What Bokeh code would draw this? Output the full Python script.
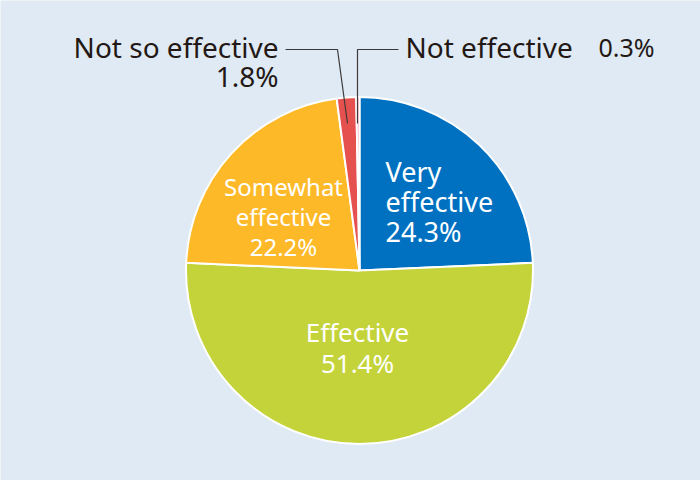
import math
from bokeh.plotting import figure
from bokeh.models import Range1d, ColumnDataSource
from bokeh.core.properties import value
from bokeh.embed import file_html
from bokeh.resources import INLINE

# ---- data ----
categories = ["Very effective", "Effective", "Somewhat effective", "Not so effective", "Not effective"]
values = [24.3, 51.4, 22.2, 1.8, 0.3]
colors = ["#0071c1", "#c4d339", "#fdb927", "#e5514f", "#f2a0b6"]

# inside-label text lines (white)
inside_lines = {
    "Very effective": ["Very", "effective"],
    "Effective": ["Effective"],
    "Somewhat effective": ["Somewhat", "effective"],
}

# ---- layout (reference pixel coords; y measured from top) ----
W, H = 700, 480
FONT = "Noto Sans"
CX, CY, R = 359, 270, 173.5
TY = -11  # baseline correction for text rendering

def fy(y):
    return H - y

def ty_(y):
    return H - (y + TY)

p = figure(width=W, height=H, output_backend="svg", toolbar_location=None,
           x_range=Range1d(0, W), y_range=Range1d(0, H),
           min_border=0, background_fill_color="#dfeaf4", border_fill_color="#dfeaf4")
p.axis.visible = False
p.grid.visible = False
p.outline_line_color = None

total = sum(values)
starts, ends = [], []
cum = 0.0
for v in values:
    starts.append(math.pi / 2 - 2 * math.pi * cum / total)
    cum += v
    ends.append(math.pi / 2 - 2 * math.pi * cum / total)

src = ColumnDataSource(dict(x=[CX] * len(values), y=[fy(CY)] * len(values),
                            start=starts, end=ends, color=colors))
p.wedge(x="x", y="y", radius=R, radius_units="screen", start_angle="start", end_angle="end",
        direction="clock", fill_color="color", line_color="white", line_width=2, source=src)

# inside labels: anchor x, first baseline y, alignment, font size, line gap
inside_place = {
    "Very effective": (385, 182, "left", "27px", 30),
    "Effective": (357, 342, "center", "26px", 31),
    "Somewhat effective": (283, 197, "center", "24px", 30),
}
tx, ty, tt, ta, ts = [], [], [], [], []
for cat, v in zip(categories, values):
    if cat not in inside_lines:
        continue
    x0, y0, al, fs, gap = inside_place[cat]
    lines = inside_lines[cat] + [f"{v}%"]
    for i, ln in enumerate(lines):
        tx.append(x0); ty.append(ty_(y0 + i * gap)); tt.append(ln); ta.append(al); ts.append(fs)
p.text(x=tx, y=ty, text=tt, text_align=ta, text_font_size=ts, text_color="white",
       text_baseline="alphabetic", text_font=value(FONT))

# outside labels with leader lines
dark = "#231815"
lead = "#3e3a39"
v_nse = values[categories.index("Not so effective")]
v_ne = values[categories.index("Not effective")]

p.text(x=[278, 278], y=[ty_(57), ty_(86)], text=["Not so effective", f"{v_nse}%"],
       text_align="right", text_baseline="alphabetic", text_font_size="28px",
       text_color=dark, text_font=value(FONT))
p.text(x=[405], y=[ty_(57)], text=["Not effective"], text_align="left",
       text_baseline="alphabetic", text_font_size="28px", text_color=dark, text_font=value(FONT))
p.text(x=[654], y=[ty_(57)], text=[f"{v_ne}%"], text_align="right",
       text_baseline="alphabetic", text_font_size="25px", text_color=dark, text_font=value(FONT))

p.line(x=[285, 337, 347], y=[fy(49), fy(49), fy(123)], line_color=lead, line_width=1.2)
p.line(x=[398, 357, 357], y=[fy(49), fy(49), fy(123)], line_color=lead, line_width=1.2)

open("out.html", "w").write(file_html(p, INLINE))
